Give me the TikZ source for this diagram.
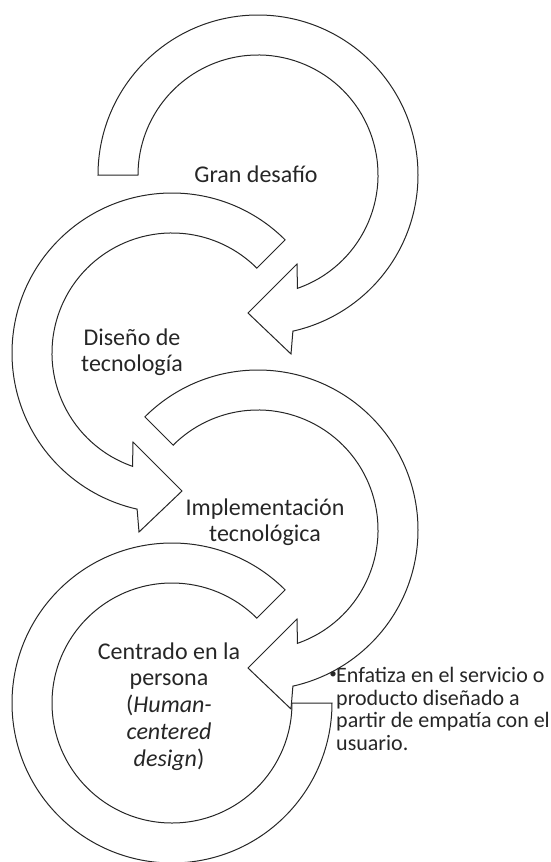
\documentclass[tikz,border=0pt]{standalone}
\usepackage{fontspec}
\setmainfont{Carlito}
\begin{document}
\begin{tikzpicture}[x=1pt,y=-1pt,
  arrowshape/.style={draw=black!85, line width=1pt, fill=white, line join=miter},
  lbl/.style={font=\fontsize{24}{27}\selectfont, text=black!85, inner sep=0pt, anchor=base},
  note/.style={font=\fontsize{22}{22.5}\selectfont, text=black!85, inner sep=0pt, anchor=base west}]
\useasboundingbox (0,0) rectangle (550,862);
\coordinate (c1) at (258,175);
\coordinate (c2) at (172,353);
\coordinate (c3) at (258,530);
\coordinate (c4) at (172,703);
% arrow 1
\draw[arrowshape,shift={(c1)}] (180:160) arc[start angle=180,end angle=437.4,radius=160]
  -- (33,179) -- (-10,138) -- (39,89) -- (430.8:120)
  arc[start angle=430.8,end angle=180,radius=120] -- cycle;
% arrow 2
\draw[arrowshape,shift={(c2)}] (-45:160) arc[start angle=-45,end angle=-257.4,radius=160]
  -- (-33,179) -- (10,138) -- (-39,89) -- (-250.8:120)
  arc[start angle=-250.8,end angle=-45,radius=120] -- cycle;
% arrow 3
\draw[arrowshape,shift={(c3)}] (225:160) arc[start angle=225,end angle=437.4,radius=160]
  -- (33,179) -- (-10,138) -- (39,89) -- (430.8:120)
  arc[start angle=430.8,end angle=225,radius=120] -- cycle;
% block arc 4
\draw[arrowshape,shift={(c4)}] (-45:160) arc[start angle=-45,end angle=-360,radius=160]
  -- (-360:120) arc[start angle=-360,end angle=-45,radius=120] -- cycle;
% labels
\node[lbl] (t1) at (256,182) {Gran desafío};
\node[lbl] (t2a) at (132,345) {Diseño de};
\node[lbl] (t2b) at (132,371) {tecnología};
\node[lbl] (t3a) at (265,515) {Implementación};
\node[lbl] (t3b) at (265,541) {tecnológica};
\node[lbl] (t4a) at (169,659) {Centrado en la};
\node[lbl] (t4b) at (169,685.9) {persona};
\node[lbl] (t4c) at (169,712.8) {(\textit{Human-}};
\node[lbl] (t4d) at (169,739.7) {\textit{centered}};
\node[lbl] (t4e) at (169,766.6) {\textit{design})};
% note
\node[note, anchor=base east, font=\fontsize{15}{15}\selectfont] (bul) at (337,678.5) {•};
\node[note] (n1) at (336,682.5) {Enfatiza en el servicio o};
\node[note] (n2) at (336,705) {producto diseñado a};
\node[note] (n3) at (336,727.5) {partir de empatía con el};
\node[note] (n4) at (336,750) {usuario.};
\end{tikzpicture}
\end{document}
